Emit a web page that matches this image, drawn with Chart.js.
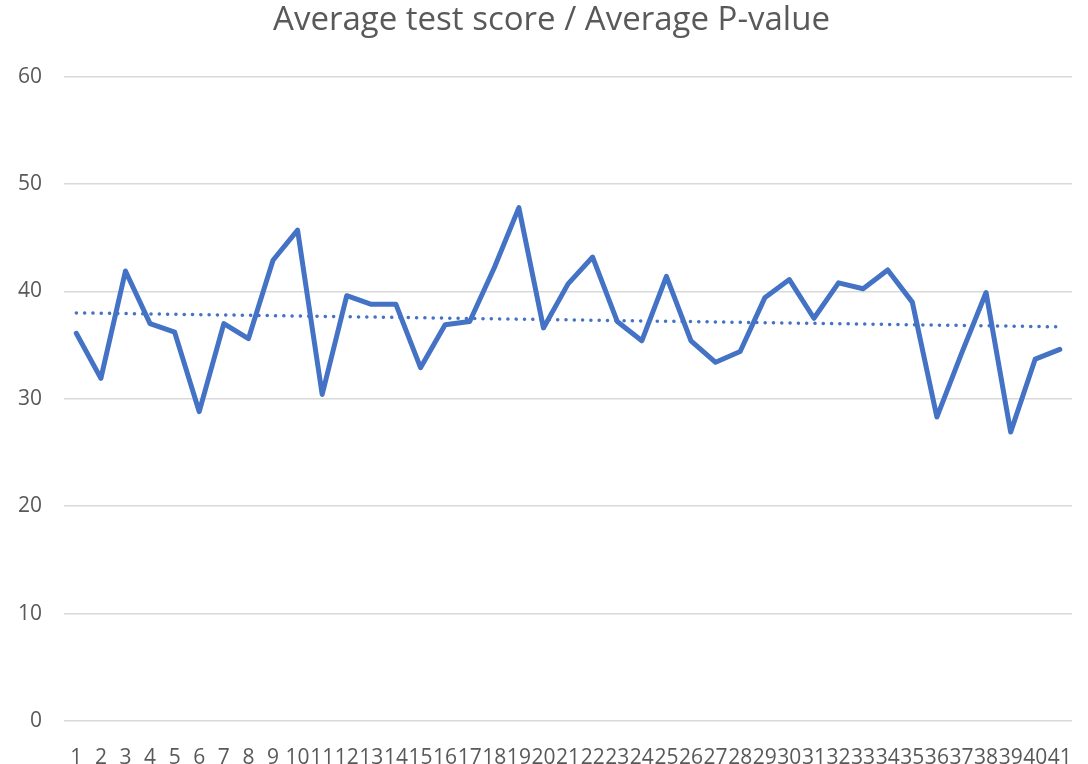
<!DOCTYPE html>
<html>
<head>
<meta charset="utf-8">
<title>Average test score / Average P-value</title>
<script src="https://cdn.jsdelivr.net/npm/chart.js@4"></script>
<style>
    body { margin: 0; background: #ffffff; }
    canvas { display: block; }
</style>
</head>
<body>
<canvas id="myChart" width="1088" height="764"></canvas>
<script>
// ------------ Data ------------
const testLabels = ['1', '2', '3', '4', '5', '6', '7', '8', '9', '10',
    '11', '12', '13', '14', '15', '16', '17', '18', '19', '20',
    '21', '22', '23', '24', '25', '26', '27', '28', '29', '30',
    '31', '32', '33', '34', '35', '36', '37', '38', '39', '40', '41'];

const avgScore = [36.1, 31.9, 41.9, 37.0, 36.2, 28.8, 37.0, 35.6, 42.9, 45.7,
    30.4, 39.6, 38.8, 38.8, 32.9, 36.9, 37.2, 42.2, 47.8, 36.6,
    40.7, 43.2, 37.2, 35.4, 41.4, 35.4, 33.4, 34.4, 39.4, 41.1,
    37.5, 40.8, 40.25, 42.0, 39.0, 28.3, 34.2, 39.9, 26.9, 33.7, 34.6];

// linear trendline, value at the first and the last test
const trendEnds = [38.0, 36.7];

const yTicks = [0, 10, 20, 30, 40, 50, 60];

// trend data only at the two ends, the line spans the gap
const trendData = testLabels.map(() => null);
trendData[0] = trendEnds[0];
trendData[testLabels.length - 1] = trendEnds[1];

const blue = '#4472c4';
const grey = '#595959';

const ctx = document.getElementById('myChart').getContext('2d');

new Chart(ctx, {
    type: 'line',
    data: {
        labels: testLabels,
        datasets: [
            {
                label: 'Trend',
                data: trendData,
                spanGaps: true,
                borderColor: blue,
                borderWidth: 3.5,
                borderDash: [0.1, 8.2],
                borderCapStyle: 'round',
                pointRadius: 0,
                tension: 0
            },
            {
                label: 'Average test score',
                data: avgScore,
                borderColor: blue,
                borderWidth: 5,
                borderJoinStyle: 'round',
                borderCapStyle: 'round',
                pointRadius: 0,
                tension: 0
            }
        ]
    },
    options: {
        responsive: false,
        animation: false,
        layout: {
            padding: { left: 15, right: 0, top: 0, bottom: 0 }
        },
        plugins: {
            legend: { display: false },
            tooltip: { enabled: false },
            title: {
                display: true,
                text: 'Average test score / Average P-value',
                color: grey,
                font: { family: 'Open Sans', size: 33, weight: 'normal' },
                padding: { top: 1, bottom: 36 }
            }
        },
        scales: {
            x: {
                offset: true,
                border: { display: false },
                grid: { display: false },
                ticks: {
                    color: grey,
                    font: { family: 'Open Sans', size: 21 },
                    autoSkip: false,
                    maxRotation: 0,
                    minRotation: 0,
                    padding: 16
                },
                afterFit: function (scale) {
                    scale.height = 43;
                }
            },
            y: {
                min: 0,
                max: 60,
                border: { display: false },
                grid: {
                    color: '#d9d9d9',
                    lineWidth: 1.5,
                    drawTicks: false
                },
                afterBuildTicks: function (scale) {
                    scale.ticks = yTicks.map(v => ({ value: v }));
                },
                ticks: {
                    color: grey,
                    font: { family: 'Open Sans', size: 21 },
                    padding: 22
                },
                afterFit: function (scale) {
                    scale.width = 49;
                }
            },
            // empty strip on the right side of the plot
            yRight: {
                position: 'right',
                border: { display: false },
                grid: { display: false },
                ticks: { display: false },
                afterFit: function (scale) {
                    scale.width = 14;
                }
            }
        }
    }
});
</script>
</body>
</html>
